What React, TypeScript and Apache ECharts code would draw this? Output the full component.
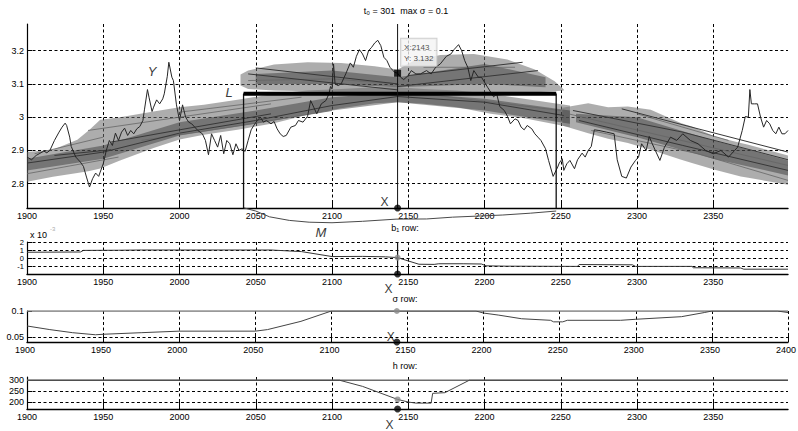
import { useEffect, useRef } from "react";
import * as echarts from "echarts";

// ---- shared ranges -------------------------------------------------------
const yearStart = 1900;
const yearEnd = 2399;
const sigmaYearEnd = 2400;
const tickStep = 50;

const mainRange: [number, number] = [2.727, 3.28];
const b1Range: [number, number] = [-2, 2];
const sigmaRange: [number, number] = [0.04, 0.1];
const hRange: [number, number] = [168, 315];

// upper limits drawn as constant lines in the sigma and h rows
const sigmaCap = 0.1;
const hCap = 300;

// ---- cursor / local window ----------------------------------------------
const cursorYear = 2143;
const cursorValue = 3.132;
const windowStart = 2042;
const windowEnd = 2247;
const localLevel = 3.07;

const titleText = "t₀ = 301  max σ = 0.1";
const panelTitles = ["b₁ row:", "σ row:", "h row:"];

// ---- observed series Y ---------------------------------------------------
const observedY: [number, number][] = [
  [1900, 2.88], [1903, 2.872], [1906, 2.885], [1908, 2.89], [1911, 2.898], [1913, 2.893],
  [1915, 2.9], [1918, 2.93], [1921, 2.955], [1923, 2.97], [1925, 2.982], [1926, 2.975],
  [1928, 2.94], [1929, 2.912], [1932, 2.88], [1935, 2.865], [1937, 2.852], [1939, 2.82],
  [1941, 2.79], [1943, 2.815], [1945, 2.832], [1947, 2.822], [1948, 2.835], [1950, 2.86],
  [1952, 2.9], [1954, 2.93], [1956, 2.915], [1958, 2.952], [1960, 2.93], [1962, 2.955],
  [1964, 2.967], [1966, 2.945], [1968, 2.96], [1970, 2.95], [1972, 2.965], [1974, 2.972],
  [1976, 2.99], [1977, 3.022], [1979, 3.083], [1980, 3.06], [1982, 3.017], [1983, 3.03],
  [1985, 3.052], [1987, 3.04], [1989, 3.055], [1990, 3.07], [1992, 3.123], [1993, 3.165],
  [1995, 3.12], [1996, 3.11], [1998, 3.037], [2000, 2.99], [2002, 3.037], [2004, 3.0],
  [2006, 2.985], [2008, 2.98], [2010, 2.97], [2012, 2.96], [2015, 2.95], [2017, 2.93],
  [2019, 2.887], [2021, 2.95], [2023, 2.93], [2025, 2.91], [2027, 2.945], [2029, 2.89],
  [2031, 2.93], [2033, 2.92], [2035, 2.887], [2037, 2.92], [2039, 2.9], [2041, 2.905],
  [2043, 2.897], [2045, 2.93], [2047, 2.962], [2049, 2.977], [2051, 2.99], [2053, 3.0],
  [2055, 2.985], [2057, 2.99], [2060, 2.98], [2062, 2.987], [2064, 2.965], [2066, 2.95],
  [2068, 2.942], [2070, 2.945], [2073, 2.97], [2076, 2.975], [2078, 2.99], [2081, 2.985],
  [2084, 3.003], [2086, 3.05], [2088, 3.03], [2090, 3.01], [2093, 3.04], [2096, 3.05],
  [2098, 3.07], [2099, 3.092], [2100, 3.085], [2101, 3.16], [2102, 3.1], [2104, 3.095],
  [2106, 3.1], [2109, 3.13], [2112, 3.163], [2114, 3.15], [2116, 3.183], [2118, 3.203],
  [2120, 3.19], [2122, 3.17], [2124, 3.2], [2126, 3.21], [2128, 3.223], [2130, 3.231],
  [2132, 3.215], [2134, 3.18], [2136, 3.17], [2138, 3.15], [2140, 3.14], [2141, 3.135],
  [2143, 3.132], [2145, 3.12], [2147, 3.113], [2150, 3.125], [2152, 3.14], [2155, 3.13],
  [2158, 3.13], [2162, 3.14], [2165, 3.13], [2168, 3.15], [2171, 3.16], [2175, 3.183],
  [2178, 3.19], [2180, 3.203], [2183, 3.218], [2185, 3.2], [2187, 3.17], [2189, 3.15],
  [2191, 3.11], [2193, 3.14], [2196, 3.12], [2198, 3.12], [2202, 3.09], [2206, 3.061],
  [2208, 3.07], [2210, 3.032], [2213, 3.02], [2215, 3.003], [2217, 2.98], [2220, 2.995],
  [2222, 2.99], [2224, 2.97], [2226, 2.962], [2228, 2.975], [2231, 2.965], [2233, 2.95],
  [2235, 2.94], [2237, 2.93], [2240, 2.905], [2242, 2.87], [2245, 2.822], [2248, 2.85],
  [2249, 2.862], [2251, 2.875], [2252, 2.84], [2254, 2.86], [2256, 2.87], [2259, 2.845],
  [2261, 2.872], [2264, 2.892], [2266, 2.88], [2268, 2.9], [2270, 2.912], [2272, 2.962],
  [2275, 2.96], [2280, 2.955], [2285, 2.95], [2287, 2.872], [2290, 2.822], [2293, 2.817],
  [2296, 2.85], [2299, 2.87], [2301, 2.88], [2303, 2.92], [2306, 2.9], [2308, 2.942],
  [2310, 2.92], [2312, 2.9], [2315, 2.87], [2318, 2.91], [2322, 2.94], [2326, 2.93],
  [2330, 2.95], [2335, 2.93], [2340, 2.92], [2345, 2.9], [2350, 2.89], [2355, 2.9],
  [2360, 2.88], [2364, 2.9], [2366, 2.91], [2369, 2.96], [2371, 3.002], [2373, 3.0],
  [2374, 3.083], [2375, 3.04], [2377, 3.04], [2379, 3.04], [2381, 3.0], [2383, 2.97],
  [2385, 2.99], [2387, 2.98], [2389, 2.96], [2391, 2.95], [2393, 2.97], [2395, 2.95],
  [2397, 2.95], [2399, 2.96],
];

// ---- envelopes of the local trend fits: [year, low, high] ----------------
const risingBand: [number, number, number][] = [
  [1900, 2.806, 2.895], [1917, 2.821, 2.902], [1933, 2.832, 2.932], [1941, 2.838, 2.962],
  [1948, 2.846, 2.992], [1961, 2.87, 3.0], [1983, 2.907, 3.017], [2000, 2.933, 3.03],
  [2016, 2.947, 3.037], [2038, 2.962, 3.052], [2062, 2.982, 3.07], [2084, 3.007, 3.08],
  [2106, 3.027, 3.085], [2128, 3.042, 3.09], [2143, 3.045, 3.09], [2160, 3.04, 3.085],
  [2182, 3.03, 3.08], [2204, 3.01, 3.07], [2226, 2.997, 3.055], [2248, 2.977, 3.04],
  [2256, 2.97, 3.035],
];
const risingCore: [number, number, number][] = [
  [1900, 2.84, 2.875], [1950, 2.875, 2.915], [2000, 2.945, 2.985], [2050, 2.98, 3.02],
  [2100, 3.02, 3.06], [2143, 3.045, 3.075], [2200, 3.02, 3.055], [2256, 2.98, 3.02],
];
const humpBand: [number, number, number][] = [
  [2040, 3.095, 3.128], [2045, 3.085, 3.14], [2062, 3.08, 3.158], [2084, 3.078, 3.165],
  [2106, 3.076, 3.163], [2128, 3.075, 3.153], [2143, 3.075, 3.143], [2154, 3.075, 3.17],
  [2171, 3.075, 3.187], [2193, 3.075, 3.19], [2215, 3.075, 3.173], [2233, 3.075, 3.143],
  [2246, 3.078, 3.108], [2252, 3.08, 3.083],
];
const humpCore: [number, number, number][] = [
  [2050, 3.1, 3.13], [2100, 3.1, 3.14], [2143, 3.09, 3.12], [2200, 3.1, 3.16], [2240, 3.09, 3.12],
];
const fallingBand: [number, number, number][] = [
  [2251, 2.975, 3.028], [2268, 2.952, 3.042], [2281, 2.935, 3.03], [2294, 2.922, 3.032],
  [2309, 2.902, 3.022], [2329, 2.872, 2.982], [2336, 2.862, 2.972], [2351, 2.842, 2.942],
  [2368, 2.822, 2.922], [2373, 2.818, 2.917], [2399, 2.797, 2.885],
];
const fallingCore: [number, number, number][] = [
  [2260, 2.985, 3.01], [2300, 2.94, 3.0], [2350, 2.875, 2.93], [2399, 2.825, 2.87],
];

// darker individual local fits inside the envelopes
const localFits: [number, number][][] = [
  [[1900, 2.862], [1950, 2.895], [2000, 2.952], [2050, 2.99], [2100, 3.035], [2143, 3.062]],
  [[1918, 2.885], [1955, 2.902]],
  [[1955, 2.925], [2010, 2.97], [2060, 3.01]],
  [[2045, 3.13], [2143, 3.082]],
  [[2050, 3.148], [2143, 3.1]],
  [[2143, 3.092], [2235, 3.14]],
  [[2150, 3.125], [2225, 3.165]],
  [[2143, 3.062], [2200, 3.045], [2252, 3.005]],
  [[2258, 3.02], [2330, 2.955], [2399, 2.872]],
  [[2262, 2.99], [2330, 2.915], [2399, 2.84]],
  [[2290, 3.025], [2340, 2.965], [2399, 2.895]],
];
// fainter fits that give the envelopes their streaks
const faintFits: [number, number][][] = [
  [[1900, 2.83], [1960, 2.88]],
  [[1905, 2.89], [1950, 2.94]],
  [[1940, 2.96], [2000, 3.0], [2060, 3.04]],
  [[1975, 2.93], [2040, 2.975], [2100, 3.02]],
  [[2000, 3.015], [2080, 3.06]],
  [[2045, 3.11], [2100, 3.115], [2143, 3.1]],
  [[2160, 3.15], [2220, 3.15]],
  [[2160, 3.07], [2250, 3.02]],
  [[2255, 3.01], [2320, 2.94], [2399, 2.855]],
  [[2300, 3.01], [2360, 2.93]],
  [[2270, 2.96], [2340, 2.89], [2399, 2.81]],
];

// kernel weights of the local window (drawn below the main axis)
const weightM: [number, number][] = [
  [2042, 0.1], [2050, 0.28], [2059, 0.6], [2072, 0.8], [2085, 0.9], [2100, 0.93],
  [2120, 0.85], [2142, 0.73], [2162, 0.72], [2179, 0.62], [2212, 0.5], [2230, 0.4], [2247, 0.28],
];

// ---- parameter rows ------------------------------------------------------
const b1Row: [number, number][] = [
  [1900, 0.72], [1935, 0.75], [1937, 0.95], [1960, 0.97], [1975, 1.0], [2060, 1.0],
  [2080, 0.8], [2100, 0.18], [2120, 0.2], [2135, 0.15], [2143, 0.05], [2148, -0.25],
  [2157, -0.78], [2167, -0.8], [2170, -0.72], [2186, -0.72], [2198, -0.75], [2201, -0.98],
  [2214, -1.02], [2261, -1.05], [2262, -0.82], [2297, -0.85], [2299, -1.05], [2336, -1.05],
  [2337, -1.22], [2368, -1.25], [2370, -1.4], [2399, -1.4],
];
const sigmaRow: [number, number][] = [
  [1900, 0.071], [1915, 0.064], [1930, 0.058], [1945, 0.054], [1950, 0.055], [1975, 0.058],
  [2000, 0.061], [2050, 0.061], [2058, 0.064], [2080, 0.08], [2100, 0.1], [2143, 0.1],
  [2195, 0.1], [2200, 0.096], [2210, 0.092], [2225, 0.085], [2244, 0.082], [2246, 0.079],
  [2252, 0.079], [2255, 0.082], [2290, 0.082], [2300, 0.084], [2330, 0.089], [2345, 0.097],
  [2350, 0.1], [2393, 0.1], [2400, 0.097],
];
const hRow: [number, number][] = [
  [1900, 300], [2105, 300], [2120, 272], [2143, 212], [2150, 200], [2155, 195], [2165, 195],
  [2166, 240], [2174, 243], [2190, 300], [2399, 300],
];

const FONT = "'Liberation Sans', Arial, Helvetica, sans-serif";

const valueAt = (rows: [number, number][], x: number) =>
  (rows.find((r) => r[0] === x) as [number, number])[1];

const gridDash = { type: [3, 2.5] as number[], color: "#000", width: 1 };

function xAxisFor(gridIndex: number, max: number) {
  const niceMax = max % tickStep === 0;
  return {
    type: "value",
    gridIndex,
    min: yearStart,
    max,
    minInterval: tickStep,
    maxInterval: tickStep,
    axisLine: { onZero: false, lineStyle: { color: "#000", width: 1.4 } },
    axisTick: { inside: true, length: 8, lineStyle: { color: "#000", width: 1 } },
    axisLabel: {
      margin: 3, fontSize: 9, color: "#000", fontFamily: FONT,
      showMinLabel: true, showMaxLabel: niceMax,
      padding: niceMax ? [0, 4, 0, 0] : 0,
      formatter: (v: number) => String(v),
    },
    splitLine: { show: true, showMinLine: false, showMaxLine: niceMax, lineStyle: gridDash },
  };
}

function yAxisFor(
  gridIndex: number, range: [number, number], step: number,
  showMinLabel: boolean, showMaxLabel: boolean, showMaxLine: boolean, fontSize = 9,
) {
  return {
    type: "value",
    gridIndex,
    min: range[0],
    max: range[1],
    minInterval: step,
    maxInterval: step,
    axisLine: { onZero: false, lineStyle: { color: "#000", width: 1.2 } },
    axisTick: { inside: true, length: 5, lineStyle: { color: "#000", width: 1 } },
    axisLabel: {
      margin: 3, fontSize, color: "#000", fontFamily: FONT,
      showMinLabel, showMaxLabel,
      formatter: (v: number) => String(v),
    },
    splitLine: { show: true, showMinLine: false, showMaxLine, lineStyle: gridDash },
  };
}

// one translucent polygon per envelope, traced along its lower edge and back along its upper edge
function bandSeries(rows: [number, number, number][], fill: string) {
  return {
    type: "custom",
    xAxisIndex: 0,
    yAxisIndex: 0,
    silent: true,
    z: 2,
    data: rows.map((r) => [r[0], r[1], r[2]]),
    encode: { x: 0, y: [1, 2] },
    renderItem: (params: any, api: any) => {
      if (params.dataIndex !== 0) return { type: "group", children: [] };
      const lower = rows.map((r) => api.coord([r[0], r[1]]));
      const upper = rows.map((r) => api.coord([r[0], r[2]])).reverse();
      return { type: "polygon", shape: { points: [...lower, ...upper] }, style: { fill } };
    },
  };
}

function plainLine(data: [number, number][], axis: number, color: string, width: number, z = 3) {
  return {
    type: "line",
    xAxisIndex: axis,
    yAxisIndex: axis,
    data,
    symbol: "none",
    silent: true,
    z,
    lineStyle: { color, width },
  };
}

function cursorDot(axis: number, y: number, labelOffset: [number, number]) {
  return {
    type: "scatter",
    xAxisIndex: axis,
    yAxisIndex: axis,
    data: [[cursorYear, y]],
    symbol: "circle",
    symbolSize: 7,
    clip: false,
    silent: true,
    z: 12,
    itemStyle: { color: "#000" },
    label: {
      show: true, formatter: "X", position: labelOffset, align: "center",
      verticalAlign: "middle", fontSize: 12, color: "#000", fontFamily: FONT,
    },
  };
}

function grayDot(axis: number, y: number) {
  return {
    type: "scatter",
    xAxisIndex: axis,
    yAxisIndex: axis,
    data: [[cursorYear, y]],
    symbol: "circle",
    symbolSize: 6,
    clip: false,
    silent: true,
    z: 11,
    itemStyle: { color: "#8a8a8a" },
  };
}

function buildOption() {
  const gridBase = { left: 27, width: 761, containLabel: false, outerBoundsMode: "none" };
  const italic = { fontSize: 13, fontStyle: "italic", fontFamily: FONT, fill: "#3a3a3a" };
  const small = { fontSize: 9, fontFamily: FONT, fill: "#000" };

  return {
    animation: false,
    backgroundColor: "#fff",
    grid: [
      { ...gridBase, top: 24, height: 184 },
      { ...gridBase, top: 206, height: 18 },
      { ...gridBase, top: 242, height: 32 },
      { ...gridBase, top: 311, height: 31 },
      { ...gridBase, top: 377, height: 32 },
    ],
    xAxis: [
      xAxisFor(0, yearEnd),
      { type: "value", gridIndex: 1, min: yearStart, max: yearEnd, show: false },
      xAxisFor(2, yearEnd),
      xAxisFor(3, sigmaYearEnd),
      xAxisFor(4, yearEnd),
    ],
    yAxis: [
      yAxisFor(0, mainRange, 0.1, false, false, false),
      { type: "value", gridIndex: 1, min: 0, max: 1, inverse: true, show: false },
      yAxisFor(2, b1Range, 1, false, true, true, 7.5),
      yAxisFor(3, sigmaRange, 0.05, false, true, false),
      yAxisFor(4, hRange, 50, false, false, false),
    ],
    series: [
      bandSeries(risingBand, "rgba(108,108,108,0.56)"),
      bandSeries(humpBand, "rgba(108,108,108,0.56)"),
      bandSeries(fallingBand, "rgba(108,108,108,0.56)"),
      bandSeries(risingCore, "rgba(45,45,45,0.44)"),
      bandSeries(humpCore, "rgba(45,45,45,0.44)"),
      bandSeries(fallingCore, "rgba(45,45,45,0.44)"),
      ...faintFits.map((fit) => plainLine(fit, 0, "#666", 0.8)),
      ...localFits.map((fit) => plainLine(fit, 0, "#383838", 1)),
      plainLine(observedY, 0, "#262626", 1, 4),
      // local window box and level L
      plainLine(
        [[windowStart, mainRange[0]], [windowStart, localLevel], [windowEnd, localLevel], [windowEnd, mainRange[0]]],
        0, "#111", 1.3, 6,
      ),
      plainLine([[windowStart, localLevel], [windowEnd, localLevel]], 0, "#000", 4, 7),
      plainLine([[cursorYear, mainRange[0]], [cursorYear, mainRange[1]]], 0, "#111", 1, 7),
      {
        type: "scatter",
        xAxisIndex: 0,
        yAxisIndex: 0,
        data: [[cursorYear, cursorValue]],
        symbol: "rect",
        symbolSize: 7,
        clip: false,
        silent: true,
        z: 12,
        itemStyle: { color: "#000" },
        label: {
          show: true,
          position: [7, -31],
          formatter: (p: any) => `X:${p.value[0]}\nY: ${p.value[1]}`,
          fontSize: 8,
          lineHeight: 11,
          fontFamily: FONT,
          color: "#222",
          backgroundColor: "#f4f4f4",
          borderColor: "#c4c4c4",
          borderWidth: 1,
          padding: [3, 3, 2, 3],
        },
      },
      cursorDot(0, mainRange[0], [-9.5, -2.5]),
      // kernel weights below the axis
      plainLine(weightM, 1, "#4a4a4a", 1),
      // b1 row
      plainLine(b1Row, 2, "#333", 1),
      plainLine([[cursorYear, b1Range[0]], [cursorYear, b1Range[1]]], 2, "#111", 1.2, 5),
      grayDot(2, valueAt(b1Row, cursorYear)),
      cursorDot(2, b1Range[0], [-5.5, 18.5]),
      // sigma row
      plainLine([[yearStart, sigmaCap], [sigmaYearEnd, sigmaCap]], 3, "#777", 1.4),
      plainLine(sigmaRow, 3, "#444", 1, 4),
      grayDot(3, valueAt(sigmaRow, cursorYear)),
      cursorDot(3, sigmaRange[0], [-2.5, -2]),
      // h row
      plainLine([[yearStart, hCap], [yearEnd, hCap]], 4, "#6c6c6c", 1.7),
      plainLine(hRow, 4, "#444", 1, 4),
      grayDot(4, valueAt(hRow, cursorYear)),
      cursorDot(4, hRange[0], [-4.5, 19.5]),
    ],
    graphic: [
      { type: "text", x: 406, y: 11, z: 100, style: { ...small, text: titleText, align: "center", verticalAlign: "middle" } },
      { type: "text", x: 405, y: 227.5, z: 100, style: { ...small, text: panelTitles[0], align: "center", verticalAlign: "middle" } },
      { type: "text", x: 405, y: 299, z: 100, style: { ...small, text: panelTitles[1], align: "center", verticalAlign: "middle" } },
      { type: "text", x: 405, y: 366, z: 100, style: { ...small, text: panelTitles[2], align: "center", verticalAlign: "middle" } },
      { type: "text", x: 30, y: 235, z: 100, style: { ...small, text: "x 10", align: "left", verticalAlign: "middle" } },
      { type: "text", x: 50, y: 229, z: 100, style: { fontSize: 6, fontFamily: FONT, fill: "#aaa", text: "-3", align: "left", verticalAlign: "middle" } },
      { type: "text", x: 152, y: 71, z: 100, style: { ...italic, text: "Y", align: "center", verticalAlign: "middle" } },
      { type: "text", x: 229, y: 92, z: 100, style: { ...italic, text: "L", align: "center", verticalAlign: "middle" } },
      { type: "text", x: 321, y: 232, z: 100, style: { ...italic, text: "M", align: "center", verticalAlign: "middle" } },
    ],
  };
}

export default function App() {
  const ref = useRef<HTMLDivElement>(null);
  useEffect(() => {
    document.body.style.margin = "0";
    const chart = echarts.init(ref.current as HTMLDivElement, undefined, { renderer: "svg" });
    chart.setOption(buildOption() as any);
    return () => chart.dispose();
  }, []);
  return <div ref={ref} style={{ width: 798, height: 431, background: "#fff" }} />;
}
